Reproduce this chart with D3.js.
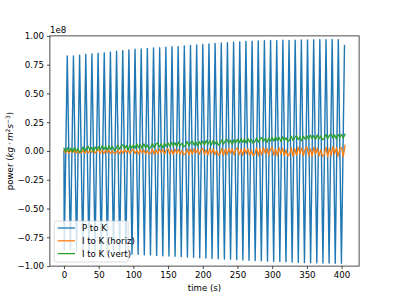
<!DOCTYPE html>
<html>
<head>
<meta charset="utf-8">
<script src="https://cdn.jsdelivr.net/npm/d3@7"></script>
<style>
  body { margin: 0; background: #fff; }
  svg { font-family: "DejaVu Sans", sans-serif; }
</style>
</head>
<body>
<svg id="chart" width="399" height="299"></svg>
<script>
// values in units of 1e8 kg m^2 s^-3
// P to K: alternating troughs and peaks (time, value)
const troughT = [0.4, 9.28, 18.15, 27.03, 35.9, 44.78, 53.65, 62.53, 71.4, 80.28, 89.15, 98.03, 106.9, 115.78, 124.65, 133.53, 142.4, 151.28, 160.15, 169.03, 177.9, 186.78, 195.65, 204.53, 213.4, 222.28, 231.15, 240.03, 248.9, 257.78, 266.65, 275.53, 284.4, 293.28, 302.15, 311.03, 319.9, 328.78, 337.65, 346.53, 355.4, 364.28, 373.15, 382.03, 390.9, 399.78];
const troughV = [-0.86, -0.862, -0.866, -0.869, -0.873, -0.876, -0.879, -0.883, -0.886, -0.889, -0.892, -0.895, -0.898, -0.901, -0.904, -0.907, -0.910, -0.912, -0.915, -0.918, -0.921, -0.924, -0.927, -0.930, -0.933, -0.936, -0.939, -0.941, -0.944, -0.947, -0.949, -0.952, -0.954, -0.957, -0.959, -0.961, -0.963, -0.965, -0.967, -0.969, -0.970, -0.972, -0.973, -0.974, -0.975, -0.976];
const peakT = [4.8, 13.68, 22.55, 31.43, 40.3, 49.18, 58.05, 66.93, 75.8, 84.68, 93.55, 102.43, 111.3, 120.18, 129.05, 137.93, 146.8, 155.68, 164.55, 173.43, 182.3, 191.18, 200.05, 208.93, 217.8, 226.68, 235.55, 244.43, 253.3, 262.18, 271.05, 279.93, 288.8, 297.68, 306.55, 315.43, 324.3, 333.18, 342.05, 350.93, 359.8, 368.68, 377.55, 386.43, 395.3, 404.2];
const peakV = [0.826, 0.826, 0.832, 0.838, 0.843, 0.849, 0.852, 0.858, 0.867, 0.872, 0.878, 0.884, 0.887, 0.890, 0.896, 0.898, 0.901, 0.907, 0.907, 0.912, 0.918, 0.922, 0.925, 0.930, 0.934, 0.938, 0.941, 0.945, 0.948, 0.951, 0.955, 0.957, 0.958, 0.961, 0.959, 0.962, 0.960, 0.963, 0.965, 0.964, 0.967, 0.968, 0.966, 0.969, 0.968, 0.916];

// I to K series, sampled every 2.5 s from 0 to 405 s
const sampleStep = 2.5;
const horiz = [
  0.006, -0.016, 0.001, -0.018, 0.005, -0.012, 0.004, -0.017, -0.001, -0.018,
  -0.014, 0.007, -0.020, 0.004, -0.017, 0.008, -0.012, 0.005, -0.019, 0.002,
  0.010, -0.019, 0.004, -0.022, 0.008, -0.014, 0.007, -0.020, 0.000, -0.022,
  -0.017, 0.010, -0.024, 0.007, -0.020, 0.012, -0.013, 0.008, -0.022, 0.005,
  0.014, -0.022, 0.006, -0.026, 0.012, -0.016, 0.010, -0.024, 0.002, -0.026,
  -0.020, 0.015, -0.029, 0.010, -0.024, 0.017, -0.015, 0.012, -0.027, 0.008,
  0.019, -0.026, 0.009, -0.031, 0.017, -0.019, 0.014, -0.029, 0.004, -0.031,
  -0.022, 0.018, -0.033, 0.013, -0.028, 0.021, -0.017, 0.016, -0.030, 0.010,
  0.023, -0.029, 0.011, -0.035, 0.020, -0.021, 0.017, -0.032, 0.006, -0.035,
  -0.025, 0.022, -0.037, 0.016, -0.031, 0.025, -0.018, 0.019, -0.034, 0.013,
  0.027, -0.032, 0.014, -0.039, 0.024, -0.023, 0.020, -0.036, 0.007, -0.039,
  -0.027, 0.026, -0.041, 0.019, -0.034, 0.029, -0.020, 0.022, -0.038, 0.015,
  0.031, -0.036, 0.016, -0.043, 0.027, -0.025, 0.024, -0.039, 0.009, -0.043,
  -0.029, 0.029, -0.045, 0.021, -0.037, 0.033, -0.022, 0.025, -0.041, 0.017,
  0.035, -0.039, 0.019, -0.047, 0.031, -0.027, 0.027, -0.043, 0.010, -0.047,
  -0.032, 0.034, -0.050, 0.025, -0.041, 0.038, -0.024, 0.029, -0.046, 0.020,
  0.030, -0.048, 0.050
];
const vert = [
  0.023, -0.007, 0.029, -0.003, 0.025, -0.009, 0.031, -0.001, 0.021, -0.011,
  0.003, 0.035, -0.001, 0.027, 0.039, 0.005, 0.031, -0.005, 0.035, 0.009,
  0.039, 0.009, 0.045, 0.013, 0.041, 0.007, 0.047, 0.015, 0.037, 0.005,
  0.019, 0.051, 0.015, 0.043, 0.055, 0.021, 0.047, 0.011, 0.051, 0.025,
  0.054, 0.024, 0.060, 0.028, 0.056, 0.022, 0.062, 0.030, 0.052, 0.020,
  0.034, 0.066, 0.030, 0.058, 0.070, 0.036, 0.062, 0.026, 0.066, 0.040,
  0.070, 0.040, 0.076, 0.044, 0.072, 0.038, 0.078, 0.046, 0.068, 0.036,
  0.050, 0.082, 0.046, 0.074, 0.086, 0.052, 0.078, 0.042, 0.082, 0.056,
  0.085, 0.055, 0.091, 0.059, 0.087, 0.053, 0.093, 0.061, 0.083, 0.051,
  0.065, 0.097, 0.061, 0.089, 0.101, 0.067, 0.093, 0.057, 0.097, 0.071,
  0.101, 0.071, 0.107, 0.075, 0.103, 0.069, 0.109, 0.077, 0.099, 0.067,
  0.081, 0.113, 0.077, 0.105, 0.117, 0.083, 0.109, 0.073, 0.113, 0.087,
  0.116, 0.086, 0.122, 0.090, 0.118, 0.084, 0.124, 0.092, 0.114, 0.082,
  0.096, 0.128, 0.092, 0.120, 0.132, 0.098, 0.124, 0.088, 0.128, 0.102,
  0.132, 0.102, 0.138, 0.106, 0.134, 0.100, 0.140, 0.108, 0.130, 0.098,
  0.112, 0.144, 0.108, 0.136, 0.148, 0.114, 0.140, 0.104, 0.144, 0.118,
  0.144, 0.112, 0.146
];

const xTicks = [0, 50, 100, 150, 200, 250, 300, 350, 400];
const yTicks = [-1.0, -0.75, -0.5, -0.25, 0.0, 0.25, 0.5, 0.75, 1.0];
const seriesNames = ["P to K", "I to K (horiz)", "I to K (vert)"];
const colors = ["#1f77b4", "#ff7f0e", "#2ca02c"];

const svg = d3.select("#chart");
const plotL = 49.9, plotR = 359.1, plotT = 35.9, plotB = 266.1;
const fs = 8.65;

const x = d3.scaleLinear().domain([-20.25, 425.25]).range([plotL, plotR]);
const y = d3.scaleLinear().domain([-1, 1]).range([plotB, plotT]);

// build P to K points
let pk = [[0, 0]];
for (let i = 0; i < troughT.length; i++) {
  pk.push([troughT[i], troughV[i]]);
  pk.push([peakT[i], peakV[i]]);
}
const hz = horiz.map((v, i) => [i * sampleStep, v]);
const vt = vert.map((v, i) => [i * sampleStep, v]);

const line = d3.line().x(d => x(d[0])).y(d => y(d[1]));

svg.append("defs").append("clipPath").attr("id", "clip")
  .append("rect").attr("x", plotL).attr("y", plotT)
  .attr("width", plotR - plotL).attr("height", plotB - plotT);

const plot = svg.append("g").attr("clip-path", "url(#clip)");
[pk, hz, vt].forEach((d, i) => {
  plot.append("path").datum(d)
    .attr("d", line)
    .attr("fill", "none")
    .attr("stroke", colors[i])
    .attr("stroke-width", i == 0 ? 1.4 : 1.3)
    .attr("stroke-linejoin", "round")
    .attr("stroke-linecap", "square");
});

// axes
const xAxis = svg.append("g").attr("transform", `translate(0,${plotB})`)
  .call(d3.axisBottom(x).tickValues(xTicks).tickSize(3).tickPadding(3).tickFormat(d3.format("d")));
const yAxis = svg.append("g").attr("transform", `translate(${plotL},0)`)
  .call(d3.axisLeft(y).tickValues(yTicks).tickSize(3).tickPadding(3).tickFormat(d3.format(".2f")));
[xAxis, yAxis].forEach(g => {
  g.select(".domain").remove();
  g.selectAll(".tick line").attr("stroke", "#000").attr("stroke-width", 0.7);
  g.selectAll(".tick text").attr("fill", "#000").style("font-size", fs + "px")
    .style("font-family", "DejaVu Sans");
});

// frame
svg.append("rect").attr("x", plotL).attr("y", plotT)
  .attr("width", plotR - plotL).attr("height", plotB - plotT)
  .attr("fill", "none").attr("stroke", "#000").attr("stroke-width", 0.7);

// offset text
svg.append("text").attr("x", plotL).attr("y", plotT - 3)
  .style("font-size", fs + "px").text("1e8");

// x label
svg.append("text").attr("x", (plotL + plotR) / 2).attr("y", 291)
  .attr("text-anchor", "middle").style("font-size", fs + "px").text("time (s)");

// y label
const yl = svg.append("text")
  .attr("transform", `translate(13,${(plotT + plotB) / 2}) rotate(-90)`)
  .attr("text-anchor", "middle").style("font-size", fs + "px");
yl.append("tspan").text("power (");
yl.append("tspan").style("font-style", "italic").text("kg\u2009\u00b7\u2009m");
yl.append("tspan").attr("dy", -3).style("font-size", "6px").text("2");
yl.append("tspan").attr("dy", 3).style("font-style", "italic").text("s");
yl.append("tspan").attr("dy", -3).style("font-size", "6px").text("\u22123");
yl.append("tspan").attr("dy", 3).text(")");

// legend
const lg = svg.append("g");
lg.append("rect").attr("x", 54.2).attr("y", 221).attr("width", 74).attr("height", 41)
  .attr("rx", 2).attr("fill", "#fff").attr("fill-opacity", 0.8)
  .attr("stroke", "#ccc").attr("stroke-width", 0.7);
seriesNames.forEach((name, i) => {
  const yy = 228 + i * 12.8;
  lg.append("line").attr("x1", 57.7).attr("x2", 75).attr("y1", yy).attr("y2", yy)
    .attr("stroke", colors[i]).attr("stroke-width", 1.3);
  lg.append("text").attr("x", 81.9).attr("y", yy + 3.1)
    .style("font-size", fs + "px").text(name);
});
</script>
</body>
</html>
